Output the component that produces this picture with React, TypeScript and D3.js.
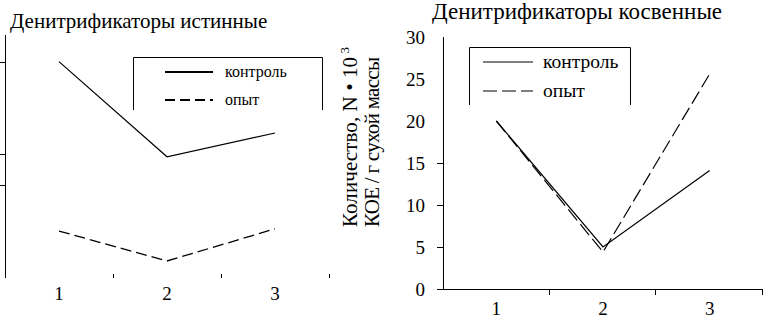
import React from "react";
import * as d3 from "d3";

const categories = ["1", "2", "3"];
const leftControl = [7.0, 3.92, 4.69];
const leftExperiment = [1.52, 0.55, 1.59];
const leftTicks = [3, 4, 7];
const rightControl = [20, 5, 14.1];
const rightExperiment = [20, 4.4, 25.6];
const rightTicks = [0, 5, 10, 15, 20, 25, 30];
const rightTickMarks = [0, 5, 10, 15];
const legendLabels = ["контроль", "опыт"];
const titles = ["Денитрификаторы истинные", "Денитрификаторы косвенные"];
const yTitle = ["Количество, N • 10", "3", "КОЕ / г сухой массы"];

const FONT = "Liberation Serif";

export default function App() {
  const lx = d3.scaleBand<string>().domain(categories).range([5, 329]);
  const ly = d3.scaleLinear().domain([0, 7.86]).range([278, 35]);
  const rx = d3.scaleBand<string>().domain(categories).range([443, 763]);
  const ry = d3.scaleLinear().domain([0, 30]).range([289, 37]);

  const lineL = d3
    .line<number>()
    .x((_, i) => (lx(categories[i]) as number) + lx.bandwidth() / 2)
    .y((d) => ly(d));
  const lineR = d3
    .line<number>()
    .x((_, i) => (rx(categories[i]) as number) + rx.bandwidth() / 2)
    .y((d) => ry(d));

  const ts = { fontFamily: FONT } as React.CSSProperties;

  return (
    <svg
      width={763}
      height={319}
      style={{ position: "absolute", left: 0, top: 0, background: "#fff", fontFamily: FONT }}
    >
      <rect x={0} y={0} width={763} height={319} fill="#fff" />
      {/* LEFT */}
      <text x={10} y={28} fontSize={21} style={ts}>
        {titles[0]}
      </text>
      <line x1={5.5} x2={5.5} y1={ly.range()[1]} y2={ly.range()[0]} stroke="#000" />
      {leftTicks.map((t) => (
        <line key={t} x1={0} x2={5} y1={Math.round(ly(t)) + 0.5} y2={Math.round(ly(t)) + 0.5} stroke="#000" />
      ))}
      {categories.map((c) => {
        const x = Math.round((lx(c) as number) + lx.bandwidth()) + 0.5;
        return <line key={c} x1={x} x2={x} y1={274} y2={278} stroke="#000" />;
      })}
      {categories.map((c) => (
        <text
          key={c}
          x={(lx(c) as number) + lx.bandwidth() / 2}
          y={293}
          dy="0.35em"
          textAnchor="middle"
          fontSize={19}
          style={ts}
        >
          {c}
        </text>
      ))}
      <path d={lineL(leftControl) || ""} fill="none" stroke="#000" strokeWidth={1.2} />
      <path d={lineL(leftExperiment) || ""} fill="none" stroke="#000" strokeWidth={1.3} strokeDasharray="11,5" />
      {/* left legend */}
      <path d="M133.5,110 V57.5 H322.5 V110" fill="none" stroke="#000" />
      <line x1={165} x2={213} y1={72} y2={72} stroke="#000" strokeWidth={2} />
      <line x1={165} x2={213} y1={100} y2={100} stroke="#000" strokeWidth={2} strokeDasharray="10,5" />
      <text x={225} y={72} dy="0.3em" fontSize={16} style={ts}>
        {legendLabels[0]}
      </text>
      <text x={225} y={100} dy="0.3em" fontSize={16} style={ts}>
        {legendLabels[1]}
      </text>

      {/* RIGHT */}
      <text x={432} y={19} fontSize={23} style={ts}>
        {titles[1]}
      </text>
      <line x1={443.5} x2={443.5} y1={ry.range()[1]} y2={ry.range()[0]} stroke="#000" />
      <line x1={443} x2={763} y1={289.5} y2={289.5} stroke="#000" />
      {rightTickMarks.map((t) => (
        <line key={t} x1={437} x2={443} y1={Math.round(ry(t)) + 0.5} y2={Math.round(ry(t)) + 0.5} stroke="#000" />
      ))}
      {rightTicks.map((t) => (
        <text key={t} x={425} y={ry(t)} dy="0.35em" textAnchor="end" fontSize={19} style={ts}>
          {t}
        </text>
      ))}
      {categories.map((c) => {
        const x = Math.round((rx(c) as number) + rx.bandwidth()) - 0.5;
        return <line key={c} x1={x} x2={x} y1={289} y2={295} stroke="#000" />;
      })}
      {categories.map((c) => (
        <text
          key={c}
          x={(rx(c) as number) + rx.bandwidth() / 2}
          y={308}
          dy="0.35em"
          textAnchor="middle"
          fontSize={19}
          style={ts}
        >
          {c}
        </text>
      ))}
      <path d={lineR(rightControl) || ""} fill="none" stroke="#000" strokeWidth={1.2} />
      <path d={lineR(rightExperiment) || ""} fill="none" stroke="#000" strokeWidth={1.2} strokeDasharray="14,5" />
      {/* right legend */}
      <path d="M469.5,105 V47.5 H630.5 V105" fill="none" stroke="#000" />
      <line x1={483} x2={533} y1={62} y2={62} stroke="#000" />
      <line x1={483} x2={533} y1={91} y2={91} stroke="#000" strokeDasharray="14,5" />
      <text x={543} y={62} dy="0.3em" fontSize={19.5} style={ts}>
        {legendLabels[0]}
      </text>
      <text x={543} y={91} dy="0.3em" fontSize={19.5} style={ts}>
        {legendLabels[1]}
      </text>
      {/* y-axis title */}
      <text transform="translate(357,227) rotate(-90)" fontSize={21} style={ts} textLength={180} lengthAdjust="spacing">
        {yTitle[0]}
        <tspan dy={-8} fontSize={13}> {yTitle[1]}</tspan>
      </text>
      <text transform="translate(379,227) rotate(-90)" fontSize={21} style={ts} textLength={170} lengthAdjust="spacing">
        {yTitle[2]}
      </text>
    </svg>
  );
}
